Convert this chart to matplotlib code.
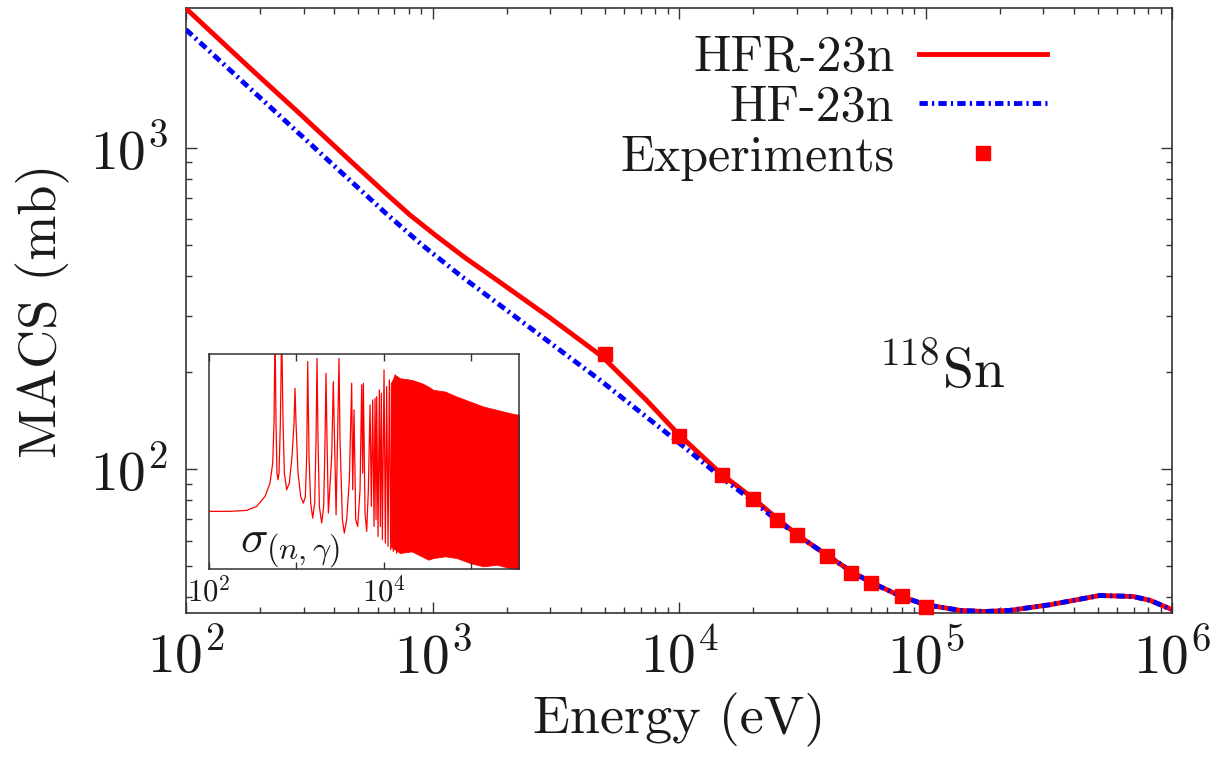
import matplotlib
matplotlib.use('Agg')
import matplotlib.pyplot as plt
from matplotlib.ticker import FixedLocator, FixedFormatter, NullLocator

plt.rcParams['font.family'] = 'serif'
plt.rcParams['font.serif'] = ['cmr10']
plt.rcParams['mathtext.fontset'] = 'cm'
plt.rcParams['axes.formatter.use_mathtext'] = True
plt.rcParams['axes.unicode_minus'] = False
plt.rcParams['lines.scale_dashes'] = False

# MACS curves (energy in eV, MACS in mb)
hfr_e = [100, 180, 288, 459, 643, 810, 1026, 1350, 1866, 2978, 4886, 7378, 9950,
         14880, 20000, 25000, 30000, 40000, 50000, 60000, 80000, 100000, 138000,
         174000, 220000, 320000, 510000, 695000, 815000, 1000000]
hfr_s = [2711, 1782, 1281, 918, 724, 618, 535, 456, 383, 297, 224, 164, 128.5,
         96.5, 81.2, 70.3, 62.7, 53.9, 48.1, 44.5, 40.2, 37.9, 36.4,
         36.1, 36.4, 37.9, 40.5, 40.2, 39.1, 36.6]

hf_e = [100, 288, 643, 900, 1300, 1866, 4753, 10050, 14880,
        20000, 25000, 30000, 40000, 50000, 60000, 80000, 100000, 138000,
        174000, 220000, 320000, 510000, 695000, 815000, 1000000]
hf_s = [2331, 1106, 628, 501, 400, 325, 190, 120.5, 94.2,
        79.5, 69.3, 62.7, 53.9, 48.1, 44.5, 40.2, 37.9, 36.4,
        36.1, 36.4, 37.9, 40.5, 40.2, 39.1, 36.6]

exp_e = [5000, 10000, 15000, 20000, 25000, 30000, 40000, 50000, 60000, 80000, 100000]
exp_s = [227.6, 126.6, 95.8, 80.6, 69.5, 62.4, 53.7, 47.6, 44.3, 40.4, 37.3]

# inset: resolved-resonance capture cross section (arbitrary units)
sig_e = [100, 174, 270, 351, 438, 499, 536, 555, 570, 585, 600, 617, 633, 656,
         679, 704, 729, 775, 831, 892, 940, 965, 991, 1045, 1121, 1203, 1268,
         1313, 1349, 1396, 1459, 1538, 1622, 1680, 1724, 1771, 1834, 1950, 2056,
         2130, 2186, 2244, 2325, 2539, 2650, 2760, 2850, 2960, 3080, 3162, 3363,
         3545, 3770, 4045, 4301, 4416, 4575, 4780, 5040, 5358, 5600, 5747, 5850,
         6114, 6389, 6675, 6977, 7226, 7482, 7750, 7960, 8172, 8317, 8612, 8920,
         9158, 9404, 9654, 10090, 10450, 10820, 11210, 11610, 12030, 12460,
         12900, 13490, 14090]
sig_s = [0.118, 0.118, 0.123, 0.146, 0.224, 0.396, 0.931, 5.15, 300, 5.15, 0.607,
         0.456, 0.607, 5.15, 300, 5.15, 0.607, 0.298, 0.396, 1.24, 5.15, 23.0,
         5.15, 0.607, 0.224, 0.168, 0.224, 1.24, 72.0, 1.24, 0.168, 0.0886,
         0.168, 2.53, 83.1, 2.53, 0.146, 0.0715, 0.146, 2.53, 43.7, 2.53, 0.110,
         1.24, 30.6, 1.24, 0.102, 2.53, 83.1, 2.53, 0.0825, 0.0466, 0.0825,
         0.456, 28.5, 0.298, 9.12, 0.0825, 0.062, 0.298, 26.6, 0.607, 28.5,
         0.110, 0.0501, 0.298, 11.3, 0.146, 14.0, 0.062, 15.0, 0.0825, 16.1,
         0.0404, 21.4, 0.062, 18.6, 0.0351, 50.4, 0.0304, 24.7, 0.0264, 32.9,
         0.0229, 21.4, 0.0213, 40.7, 0.0198]

dense_e = [12030, 13490, 15380, 20920, 27240, 32470, 37040, 50400, 68540,
           97390, 138400, 196800, 279700, 354500]
dense_hi = [28.5, 40.7, 35.3, 32.9, 28.5, 24.7, 21.4, 20.0, 16.1, 13.0, 10.5,
            9.12, 7.90, 7.36]
dense_lo = [0.0264, 0.0229, 0.0198, 0.0213, 0.0172, 0.0149, 0.0160, 0.0172,
            0.0160, 0.0129, 0.0112, 0.0120, 0.0104, 0.0100]

txt = '#1a1a1a'
fig = plt.figure(figsize=(12.11, 7.63), dpi=100)
ax = fig.add_axes([0.1536, 0.197, 0.8142, 0.7925])

ax.plot(hfr_e, hfr_s, color='red', lw=3.5, label='HFR-23n', zorder=3)
hf_line, = ax.plot(hf_e, hf_s, color='blue', lw=3.5, label='HF-23n', zorder=4)
hf_line.set_dashes([6, 3, 1.6, 3])
ax.plot(exp_e, exp_s, 's', color='red', ms=10.5, label='Experiments',
        clip_on=False, zorder=5)

ax.set_xscale('log')
ax.set_yscale('log')
ax.set_xlim(100, 1e6)
ax.set_ylim(35.8, 2721)
ax.yaxis.set_minor_locator(FixedLocator([40, 50, 60, 70, 80, 90,
                                         200, 300, 400, 500, 600, 700, 800, 900]))

for s in ax.spines.values():
    s.set_color('#333333')
    s.set_linewidth(1.2)
ax.tick_params(which='both', direction='in', top=True, right=True, color='#333333')
ax.tick_params(which='major', length=8, width=1, labelsize=40, labelcolor=txt)
ax.tick_params(which='minor', length=4, width=1)
ax.tick_params(axis='x', pad=12)
ax.tick_params(axis='y', pad=13)

ax.set_xlabel('Energy (eV)', fontsize=39, color=txt)
ax.set_ylabel('MACS (mb)', fontsize=39, color=txt)
ax.xaxis.set_label_coords(0.5, -0.133)
ax.yaxis.set_label_coords(-0.118, 0.5)

ax.legend(loc='upper right', bbox_to_anchor=(0.873, 0.955), fontsize=36,
          frameon=False, markerfirst=False, handlelength=2.55, handletextpad=0.5,
          labelspacing=0.08, borderpad=0, borderaxespad=0, numpoints=1,
          labelcolor=txt)

ax.text(0.702, 0.3716, r'$^{118}$Sn', transform=ax.transAxes, fontsize=40,
        va='baseline', ha='left', color=txt)

# inset
axin = fig.add_axes([0.1726, 0.2543, 0.256, 0.2818])
axin.plot(sig_e, sig_s, color='red', lw=0.9)
axin.fill_between(dense_e, dense_lo, dense_hi, color='red', lw=0.6)
axin.set_xscale('log')
axin.set_yscale('log')
axin.set_xlim(100, 3.545e5)
axin.set_ylim(0.01, 100)
axin.xaxis.set_major_locator(FixedLocator([1e2, 1e3, 1e4, 1e5]))
axin.xaxis.set_major_formatter(FixedFormatter([r'$10^2$', '', r'$10^4$', '']))
axin.xaxis.set_minor_locator(NullLocator())
axin.yaxis.set_major_locator(NullLocator())
axin.yaxis.set_minor_locator(NullLocator())
for s in axin.spines.values():
    s.set_color('#333333')
    s.set_linewidth(1.1)
axin.tick_params(axis='x', which='major', direction='in', top=True, length=5,
                 width=1, labelsize=22, pad=5, labelcolor=txt, color='#333333')
axin.text(0.1, 0.075, r'$\sigma_{(n,\gamma)}$', transform=axin.transAxes,
          fontsize=33, va='baseline', ha='left', color=txt)

fig.savefig('out.png', dpi=100)
